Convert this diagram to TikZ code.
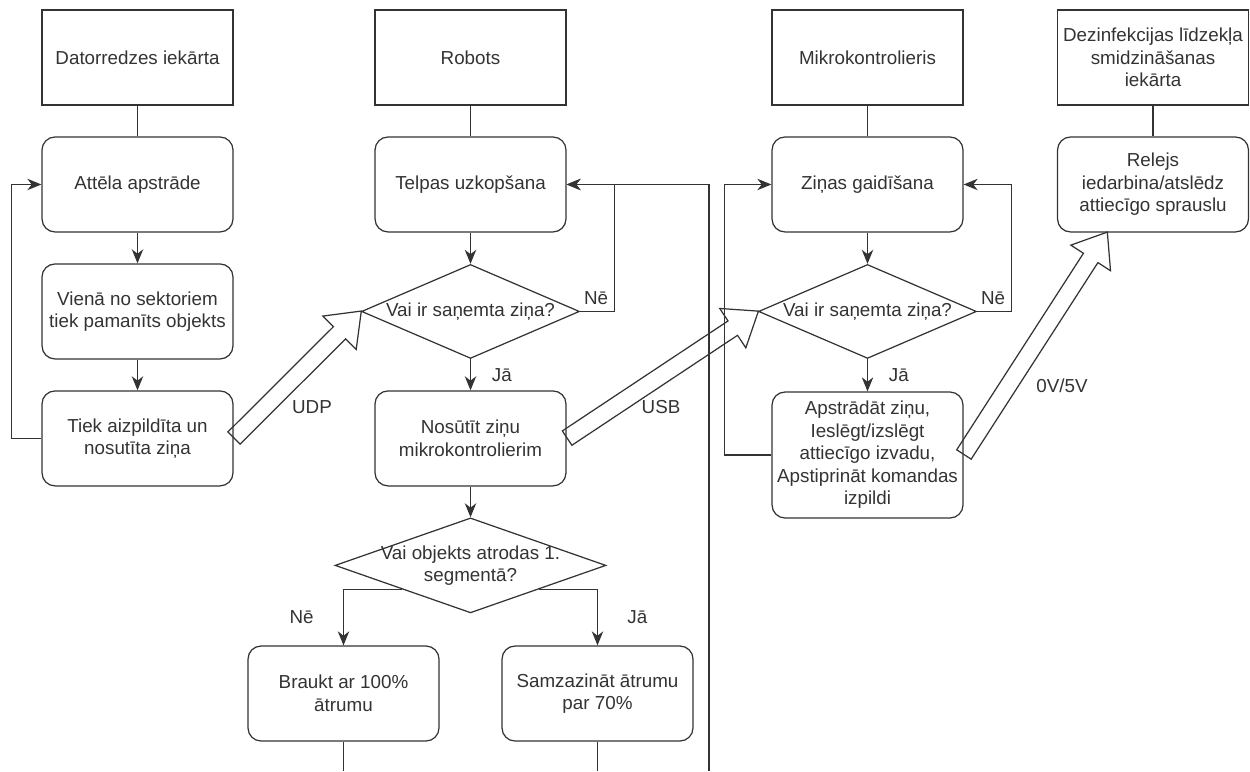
\documentclass[tikz,border=0pt]{standalone}
\usepackage{fontspec}
\setmainfont{Liberation Sans}
\usepackage{tikz}
\usetikzlibrary{arrows.meta,calc,shapes.geometric,shapes.arrows}

\begin{document}
\begin{tikzpicture}[x=0.02cm,y=-0.02cm,->,>={Stealth[length=8pt,width=6.5pt,inset=2.5pt]},
                    line width=0.7pt,color=black!80,node distance=2.54cm,
                    font=\fontsize{10.7}{12.8}\selectfont]
  \tikzstyle{unit}=[rectangle,draw,minimum width=3.82cm,minimum height=1.9cm,inner xsep=1pt,align=center]
  \tikzstyle{proc}=[unit,rounded corners=0.26cm]
  \tikzstyle{dec}=[diamond,draw,aspect=2.3,inner sep=0pt,minimum width=4.36cm,minimum height=1.88cm]
  \tikzstyle{block}=[single arrow,draw,anchor=tail,inner sep=0pt,text height=0.32cm,text depth=0pt,
                     single arrow head extend=0.3cm,single arrow tip angle=75]

  \useasboundingbox (0,0) rectangle (1250,771);

  % datorredze
  \node[unit] (T1) at (137.5,57.5)      {Datorredzes iekārta};
  \node[proc] (P1) [below of=T1]        {Attēla apstrāde};
  \node[proc] (P2) [below of=P1]        {Vienā no sektoriem\\tiek pamanīts objekts};
  \node[proc] (P3) [below of=P2]        {Tiek aizpildīta un\\nosutīta ziņa};

  % robots
  \node[unit] (T2) at (470.5,57.5)      {Robots};
  \node[proc] (P4) [below of=T2]        {Telpas uzkopšana};
  \node[dec]  (D1) [below of=P4]        {Vai ir saņemta ziņa?};
  \node[proc] (P5) [below of=D1]        {Nosūtīt ziņu\\mikrokontrolierim};
  \node[dec,minimum width=5.42cm,minimum height=1.9cm,
        label={[align=center]center:Vai objekts atrodas 1.\\segmentā?}] (D2) [below of=P5] {};
  \node[proc] (B1) at (343.5,693.5)     {Braukt ar 100\%\\ātrumu};
  \node[proc] (B2) at (597.5,693.5)     {Samzazināt ātrumu\\par 70\%};

  % mikrokontrolieris
  \node[unit] (T3) at (867.5,57.5)      {Mikrokontrolieris};
  \node[proc] (P6) [below of=T3]        {Ziņas gaidīšana};
  \node[dec]  (D3) [below of=P6]        {Vai ir saņemta ziņa?};
  \node[proc,minimum height=2.52cm] (P7) at (867.5,455)
        {Apstrādāt ziņu,\\Ieslēgt/izslēgt\\attiecīgo izvadu,\\Apstiprināt komandas\\izpildi};

  % smidzinatajs
  \node[unit] (T4) at (1153,57.5)       {Dezinfekcijas līdzekļa\\smidzināšanas\\iekārta};
  \node[proc] (P8) [below of=T4]        {Relejs\\iedarbina/atslēdz\\attiecīgo sprauslu};

  \coordinate (e1) at (343.5,771);
  \coordinate (e2) at (597.5,771);
  \coordinate (e3) at (709,771);
  \coordinate (sp) at ([xshift=-0.92cm]P8.south);

  \draw[-] (T1) -- (P1);
  \draw (P1) -- (P2);
  \draw (P2) -- (P3);
  \draw (P3.west) -- ++(-30,0) |- (P1.west);

  \draw[-] (T2) -- (P4);
  \draw (P4) -- (D1);
  \draw (D1) -- node[right=0.3cm] {Jā} (P5);
  \draw (D1.east) -- ++(34.5,0) node[above left] {Nē} |- (P4.east);
  \draw (P5) -- (D2);
  \draw (D2.south west) -| node[pos=0.75,left=0.47cm] {Nē} (B1);
  \draw (D2.south east) -| node[pos=0.75,right=0.47cm] {Jā} (B2);
  \draw[-] (B1) -- (e1);
  \draw[-] (B2) -- (e2);
  \draw (e3) |- (P4.east);

  \draw[-] (T3) -- (P6);
  \draw (P6) -- (D3);
  \draw (D3) -- node[right=0.3cm] {Jā} (P7);
  \draw (D3.east) -- ++(34.5,0) node[above left] {Nē} |- (P6.east);
  \draw (P7.west) -- ++(-47,0) |- (P6.west);

  \draw[-] (T4) -- (P8);

  % plati bultas starp iekartam
  \path let \p1=($(D1.west)-(P3.east)$) in
    node[block,minimum height={veclen(\x1,\y1)},rotate={atan2(\y1,\x1)}] (A1) at (P3.east) {};
  \path let \p1=($(D3.west)-(P5.east)$) in
    node[block,minimum height={veclen(\x1,\y1)},rotate={atan2(\y1,\x1)}] (A2) at (P5.east) {};
  \path let \p1=($(sp)-(P7.east)$) in
    node[block,minimum height={veclen(\x1,\y1)},rotate={atan2(\y1,\x1)}] (A3) at (P7.east) {};

  \node (udp) at (312,407)  {UDP};
  \node (usb) at (661,407)  {USB};
  \node (volt) at (1062,386) {0V/5V};
\end{tikzpicture}
\end{document}
